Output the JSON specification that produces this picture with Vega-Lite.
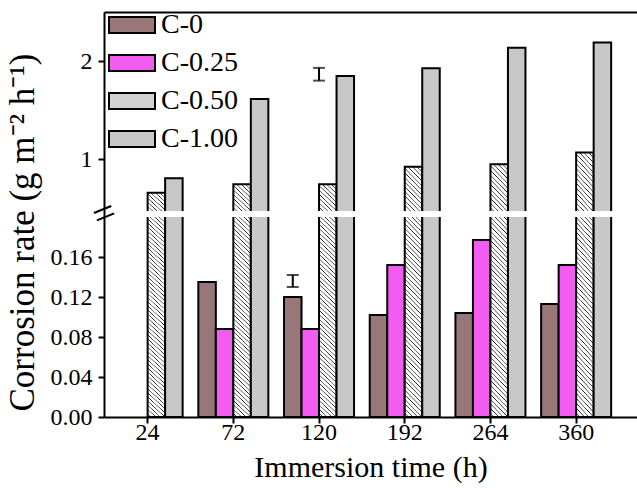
{
  "$schema": "https://vega.github.io/schema/vega-lite/v6.json",
  "width": 533,
  "height": 405,
  "autosize": {"type": "none"},
  "padding": {"left": 104, "top": 12, "right": 0, "bottom": 71},
  "background": "white",
  "config": {
    "font": "Liberation Serif",
    "view": {"stroke": null},
    "style": {
      "guide-label": {"font": "Liberation Serif", "fill": "black"},
      "guide-title": {"font": "Liberation Serif", "fill": "black"}
    },
    "axis": {
      "domainColor": "black", "domainWidth": 2, "tickColor": "black", "tickWidth": 2, "tickSize": 6,
      "labelColor": "black", "labelFontSize": 24, "labelFont": "Liberation Serif",
      "titleColor": "black", "titleFontSize": 30, "titleFontWeight": "normal", "titleFont": "Liberation Serif",
      "grid": false
    },
    "legend": {
      "orient": "none", "legendX": 4, "legendY": -11, "padding": 0,
      "labelFontSize": 28, "labelFont": "Liberation Serif", "labelColor": "black", "labelOffset": 5, "labelLimit": 300,
      "symbolType": "M-1,-0.35H1V0.35H-1Z", "symbolSize": 2116, "symbolStrokeColor": "black", "symbolStrokeWidth": 2,
      "symbolOpacity": 1, "rowPadding": -14
    }
  },
  "datasets": {
    "rates": [
      {"time": "24", "series": "C-0.50", "rate": 0.656},
      {"time": "24", "series": "C-1.00", "rate": 0.803},
      {"time": "72", "series": "C-0", "rate": 0.135},
      {"time": "72", "series": "C-0.25", "rate": 0.088},
      {"time": "72", "series": "C-0.50", "rate": 0.742},
      {"time": "72", "series": "C-1.00", "rate": 1.612},
      {"time": "120", "series": "C-0", "rate": 0.120},
      {"time": "120", "series": "C-0.25", "rate": 0.088},
      {"time": "120", "series": "C-0.50", "rate": 0.742},
      {"time": "120", "series": "C-1.00", "rate": 1.847},
      {"time": "192", "series": "C-0", "rate": 0.102},
      {"time": "192", "series": "C-0.25", "rate": 0.152},
      {"time": "192", "series": "C-0.50", "rate": 0.921},
      {"time": "192", "series": "C-1.00", "rate": 1.925},
      {"time": "264", "series": "C-0", "rate": 0.104},
      {"time": "264", "series": "C-0.25", "rate": 0.177},
      {"time": "264", "series": "C-0.50", "rate": 0.946},
      {"time": "264", "series": "C-1.00", "rate": 2.136},
      {"time": "360", "series": "C-0", "rate": 0.113},
      {"time": "360", "series": "C-0.25", "rate": 0.152},
      {"time": "360", "series": "C-0.50", "rate": 1.068},
      {"time": "360", "series": "C-1.00", "rate": 2.19}
    ],
    "errUpper": [{"time": "120", "lo": 1.80, "hi": 1.93}],
    "errLower": [{"time": "120", "series": "C-0", "lo": 0.130, "hi": 0.142}],
    "gap": [{"from": 0.2, "to": 0.47}]
  },
  "layer": [
    {
      "data": {"name": "rates"},
      "mark": {"type": "bar", "stroke": "black", "strokeWidth": 2},
      "encoding": {
        "x": {
          "field": "time", "type": "nominal",
          "scale": {"domain": ["24", "72", "120", "192", "264", "360"], "paddingInner": 0.183, "paddingOuter": 0.201, "align": 0.25},
          "axis": {"orient": "bottom", "labelAngle": 0, "labelPadding": -3, "titlePadding": 8, "title": "Immersion time (h)",
                   "labelFont": "Liberation Serif", "titleFont": "Liberation Serif"}
        },
        "xOffset": {"field": "series", "type": "nominal", "scale": {"domain": ["C-0", "C-0.25", "C-0.50", "C-1.00"], "paddingInner": 0, "paddingOuter": 0}},
        "y": {
          "field": "rate", "type": "quantitative",
          "scale": {"type": "linear", "domain": [0, 0.2, 0.47, 2.5], "range": [405, 205, 199, 0], "zero": false, "nice": false},
          "axis": {
            "values": [0, 0.04, 0.08, 0.12, 0.16, 1, 2],
            "labelExpr": "datum.value >= 1 ? format(datum.value, 'd') : format(datum.value, '.2f')",
            "labelPadding": 6, "labelOverlap": false, "labelFont": "Liberation Serif", "titleFont": "Liberation Serif",
            "title": "Corrosion rate (g m⁻² h⁻¹)", "titleFontSize": 35, "titlePadding": 10, "titleY": 220, "zindex": 1
          }
        },
        "fill": {
          "condition": {
            "test": "datum.series === 'C-0.50'",
            "value": {
              "gradient": "linear", "x1": 0, "y1": 1, "x2": 0.0761, "y2": -0.066,
              "stops": [
                {"offset": 0.0000, "color": "#ffffff"}, {"offset": 0.0112, "color": "#ffffff"}, {"offset": 0.0147, "color": "#1a1a1a"},
                {"offset": 0.0172, "color": "#ffffff"}, {"offset": 0.0284, "color": "#ffffff"}, {"offset": 0.0319, "color": "#1a1a1a"},
                {"offset": 0.0345, "color": "#ffffff"}, {"offset": 0.0457, "color": "#ffffff"}, {"offset": 0.0492, "color": "#1a1a1a"},
                {"offset": 0.0517, "color": "#ffffff"}, {"offset": 0.0629, "color": "#ffffff"}, {"offset": 0.0664, "color": "#1a1a1a"},
                {"offset": 0.0690, "color": "#ffffff"}, {"offset": 0.0802, "color": "#ffffff"}, {"offset": 0.0837, "color": "#1a1a1a"},
                {"offset": 0.0862, "color": "#ffffff"}, {"offset": 0.0974, "color": "#ffffff"}, {"offset": 0.1009, "color": "#1a1a1a"},
                {"offset": 0.1034, "color": "#ffffff"}, {"offset": 0.1146, "color": "#ffffff"}, {"offset": 0.1181, "color": "#1a1a1a"},
                {"offset": 0.1207, "color": "#ffffff"}, {"offset": 0.1319, "color": "#ffffff"}, {"offset": 0.1354, "color": "#1a1a1a"},
                {"offset": 0.1379, "color": "#ffffff"}, {"offset": 0.1491, "color": "#ffffff"}, {"offset": 0.1526, "color": "#1a1a1a"},
                {"offset": 0.1552, "color": "#ffffff"}, {"offset": 0.1664, "color": "#ffffff"}, {"offset": 0.1699, "color": "#1a1a1a"},
                {"offset": 0.1724, "color": "#ffffff"}, {"offset": 0.1836, "color": "#ffffff"}, {"offset": 0.1871, "color": "#1a1a1a"},
                {"offset": 0.1897, "color": "#ffffff"}, {"offset": 0.2009, "color": "#ffffff"}, {"offset": 0.2044, "color": "#1a1a1a"},
                {"offset": 0.2069, "color": "#ffffff"}, {"offset": 0.2181, "color": "#ffffff"}, {"offset": 0.2216, "color": "#1a1a1a"},
                {"offset": 0.2241, "color": "#ffffff"}, {"offset": 0.2353, "color": "#ffffff"}, {"offset": 0.2388, "color": "#1a1a1a"},
                {"offset": 0.2414, "color": "#ffffff"}, {"offset": 0.2526, "color": "#ffffff"}, {"offset": 0.2561, "color": "#1a1a1a"},
                {"offset": 0.2586, "color": "#ffffff"}, {"offset": 0.2698, "color": "#ffffff"}, {"offset": 0.2733, "color": "#1a1a1a"},
                {"offset": 0.2759, "color": "#ffffff"}, {"offset": 0.2871, "color": "#ffffff"}, {"offset": 0.2906, "color": "#1a1a1a"},
                {"offset": 0.2931, "color": "#ffffff"}, {"offset": 0.3043, "color": "#ffffff"}, {"offset": 0.3078, "color": "#1a1a1a"},
                {"offset": 0.3103, "color": "#ffffff"}, {"offset": 0.3215, "color": "#ffffff"}, {"offset": 0.3250, "color": "#1a1a1a"},
                {"offset": 0.3276, "color": "#ffffff"}, {"offset": 0.3388, "color": "#ffffff"}, {"offset": 0.3423, "color": "#1a1a1a"},
                {"offset": 0.3448, "color": "#ffffff"}, {"offset": 0.3560, "color": "#ffffff"}, {"offset": 0.3595, "color": "#1a1a1a"},
                {"offset": 0.3621, "color": "#ffffff"}, {"offset": 0.3733, "color": "#ffffff"}, {"offset": 0.3768, "color": "#1a1a1a"},
                {"offset": 0.3793, "color": "#ffffff"}, {"offset": 0.3905, "color": "#ffffff"}, {"offset": 0.3940, "color": "#1a1a1a"},
                {"offset": 0.3966, "color": "#ffffff"}, {"offset": 0.4078, "color": "#ffffff"}, {"offset": 0.4113, "color": "#1a1a1a"},
                {"offset": 0.4138, "color": "#ffffff"}, {"offset": 0.4250, "color": "#ffffff"}, {"offset": 0.4285, "color": "#1a1a1a"},
                {"offset": 0.4310, "color": "#ffffff"}, {"offset": 0.4422, "color": "#ffffff"}, {"offset": 0.4457, "color": "#1a1a1a"},
                {"offset": 0.4483, "color": "#ffffff"}, {"offset": 0.4595, "color": "#ffffff"}, {"offset": 0.4630, "color": "#1a1a1a"},
                {"offset": 0.4655, "color": "#ffffff"}, {"offset": 0.4767, "color": "#ffffff"}, {"offset": 0.4802, "color": "#1a1a1a"},
                {"offset": 0.4828, "color": "#ffffff"}, {"offset": 0.4940, "color": "#ffffff"}, {"offset": 0.4975, "color": "#1a1a1a"},
                {"offset": 0.5000, "color": "#ffffff"}, {"offset": 0.5112, "color": "#ffffff"}, {"offset": 0.5147, "color": "#1a1a1a"},
                {"offset": 0.5172, "color": "#ffffff"}, {"offset": 0.5284, "color": "#ffffff"}, {"offset": 0.5319, "color": "#1a1a1a"},
                {"offset": 0.5345, "color": "#ffffff"}, {"offset": 0.5457, "color": "#ffffff"}, {"offset": 0.5492, "color": "#1a1a1a"},
                {"offset": 0.5517, "color": "#ffffff"}, {"offset": 0.5629, "color": "#ffffff"}, {"offset": 0.5664, "color": "#1a1a1a"},
                {"offset": 0.5690, "color": "#ffffff"}, {"offset": 0.5802, "color": "#ffffff"}, {"offset": 0.5837, "color": "#1a1a1a"},
                {"offset": 0.5862, "color": "#ffffff"}, {"offset": 0.5974, "color": "#ffffff"}, {"offset": 0.6009, "color": "#1a1a1a"},
                {"offset": 0.6034, "color": "#ffffff"}, {"offset": 0.6146, "color": "#ffffff"}, {"offset": 0.6181, "color": "#1a1a1a"},
                {"offset": 0.6207, "color": "#ffffff"}, {"offset": 0.6319, "color": "#ffffff"}, {"offset": 0.6354, "color": "#1a1a1a"},
                {"offset": 0.6379, "color": "#ffffff"}, {"offset": 0.6491, "color": "#ffffff"}, {"offset": 0.6526, "color": "#1a1a1a"},
                {"offset": 0.6552, "color": "#ffffff"}, {"offset": 0.6664, "color": "#ffffff"}, {"offset": 0.6699, "color": "#1a1a1a"},
                {"offset": 0.6724, "color": "#ffffff"}, {"offset": 0.6836, "color": "#ffffff"}, {"offset": 0.6871, "color": "#1a1a1a"},
                {"offset": 0.6897, "color": "#ffffff"}, {"offset": 0.7009, "color": "#ffffff"}, {"offset": 0.7044, "color": "#1a1a1a"},
                {"offset": 0.7069, "color": "#ffffff"}, {"offset": 0.7181, "color": "#ffffff"}, {"offset": 0.7216, "color": "#1a1a1a"},
                {"offset": 0.7241, "color": "#ffffff"}, {"offset": 0.7353, "color": "#ffffff"}, {"offset": 0.7388, "color": "#1a1a1a"},
                {"offset": 0.7414, "color": "#ffffff"}, {"offset": 0.7526, "color": "#ffffff"}, {"offset": 0.7561, "color": "#1a1a1a"},
                {"offset": 0.7586, "color": "#ffffff"}, {"offset": 0.7698, "color": "#ffffff"}, {"offset": 0.7733, "color": "#1a1a1a"},
                {"offset": 0.7759, "color": "#ffffff"}, {"offset": 0.7871, "color": "#ffffff"}, {"offset": 0.7906, "color": "#1a1a1a"},
                {"offset": 0.7931, "color": "#ffffff"}, {"offset": 0.8043, "color": "#ffffff"}, {"offset": 0.8078, "color": "#1a1a1a"},
                {"offset": 0.8103, "color": "#ffffff"}, {"offset": 0.8215, "color": "#ffffff"}, {"offset": 0.8250, "color": "#1a1a1a"},
                {"offset": 0.8276, "color": "#ffffff"}, {"offset": 0.8388, "color": "#ffffff"}, {"offset": 0.8423, "color": "#1a1a1a"},
                {"offset": 0.8448, "color": "#ffffff"}, {"offset": 0.8560, "color": "#ffffff"}, {"offset": 0.8595, "color": "#1a1a1a"},
                {"offset": 0.8621, "color": "#ffffff"}, {"offset": 0.8733, "color": "#ffffff"}, {"offset": 0.8768, "color": "#1a1a1a"},
                {"offset": 0.8793, "color": "#ffffff"}, {"offset": 0.8905, "color": "#ffffff"}, {"offset": 0.8940, "color": "#1a1a1a"},
                {"offset": 0.8966, "color": "#ffffff"}, {"offset": 0.9078, "color": "#ffffff"}, {"offset": 0.9113, "color": "#1a1a1a"},
                {"offset": 0.9138, "color": "#ffffff"}, {"offset": 0.9250, "color": "#ffffff"}, {"offset": 0.9285, "color": "#1a1a1a"},
                {"offset": 0.9310, "color": "#ffffff"}, {"offset": 0.9422, "color": "#ffffff"}, {"offset": 0.9457, "color": "#1a1a1a"},
                {"offset": 0.9483, "color": "#ffffff"}, {"offset": 0.9595, "color": "#ffffff"}, {"offset": 0.9630, "color": "#1a1a1a"},
                {"offset": 0.9655, "color": "#ffffff"}, {"offset": 0.9767, "color": "#ffffff"}, {"offset": 0.9802, "color": "#1a1a1a"},
                {"offset": 0.9828, "color": "#ffffff"}, {"offset": 0.9940, "color": "#ffffff"}, {"offset": 0.9975, "color": "#1a1a1a"},
                {"offset": 1.0000, "color": "#ffffff"}
              ]
            }
          },
          "field": "series", "type": "nominal",
          "scale": {"domain": ["C-0", "C-0.25", "C-0.50", "C-1.00"], "range": ["#977777", "#f25cf0", "#d2d2d2", "#c8c8c8"]},
          "legend": {"title": null, "labelFont": "Liberation Serif", "labelFontSize": 28}
        }
      }
    },
    {
      "data": {"name": "gap"},
      "mark": {"type": "rect", "fill": "white", "stroke": null},
      "encoding": {
        "y": {
          "field": "from", "type": "quantitative",
          "axis": {
            "orient": "left", "values": [0.335], "labelExpr": "'='", "labelAngle": -22,
            "labelAlign": "center", "labelBaseline": "middle", "labelPadding": 0, "labelFontSize": 40,
            "labelFont": "Liberation Serif",
            "labelOverlap": false, "ticks": false, "tickSize": 0, "domain": false, "title": null, "zindex": 2
          }
        },
        "y2": {"field": "to"}
      }
    },
    {
      "data": {"name": "errUpper"},
      "mark": {"type": "rule", "color": "black", "strokeWidth": 2},
      "encoding": {
        "x": {"field": "time", "type": "nominal", "axis": {"orient": "top", "labels": false, "ticks": false, "domain": true, "title": null, "zindex": 1}},
        "y": {"field": "lo", "type": "quantitative", "axis": null},
        "y2": {"field": "hi"}
      }
    },
    {
      "data": {"name": "errUpper"},
      "transform": [{"fold": ["lo", "hi"], "as": ["end", "v"]}],
      "mark": {"type": "tick", "orient": "horizontal", "color": "black", "size": 12, "thickness": 2},
      "encoding": {
        "x": {"field": "time", "type": "nominal", "axis": null},
        "y": {"field": "v", "type": "quantitative", "axis": null}
      }
    },
    {
      "data": {"name": "errLower"},
      "mark": {"type": "rule", "color": "black", "strokeWidth": 2},
      "encoding": {
        "x": {"field": "time", "type": "nominal", "axis": null},
        "xOffset": {"field": "series", "type": "nominal"},
        "y": {"field": "lo", "type": "quantitative", "axis": null},
        "y2": {"field": "hi"}
      }
    },
    {
      "data": {"name": "errLower"},
      "transform": [{"fold": ["lo", "hi"], "as": ["end", "v"]}],
      "mark": {"type": "tick", "orient": "horizontal", "color": "black", "size": 12, "thickness": 2},
      "encoding": {
        "x": {"field": "time", "type": "nominal", "axis": null},
        "xOffset": {"field": "series", "type": "nominal"},
        "y": {"field": "v", "type": "quantitative", "axis": null}
      }
    }
  ],
  "resolve": {"axis": {"x": "independent", "y": "independent"}}
}
